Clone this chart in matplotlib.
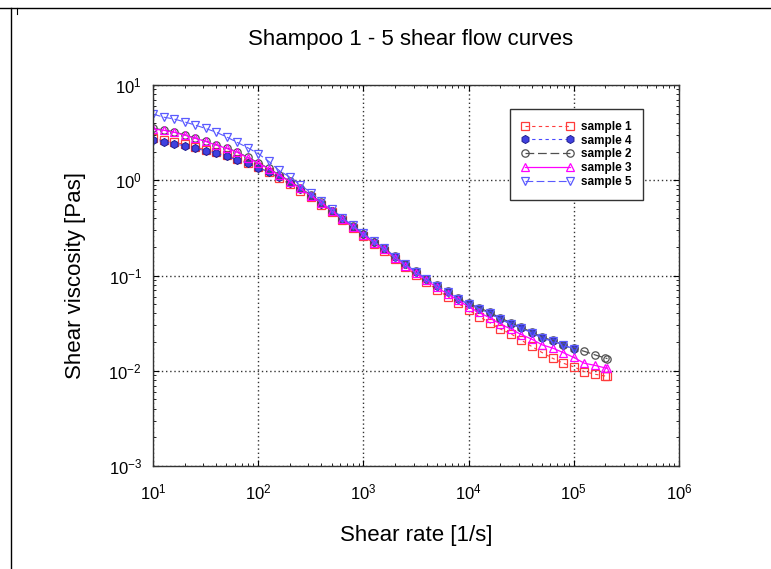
import matplotlib
matplotlib.use("Agg")
import matplotlib.pyplot as plt
from matplotlib.lines import Line2D

plt.rcParams['font.family'] = ['Liberation Sans', 'DejaVu Sans']

# shear rates [1/s], 10 points per decade
rate = [10, 12.6, 15.8, 20.0, 25.1, 31.6, 39.8, 50.1, 63.1, 79.4,
        100, 126, 158, 200, 251, 316, 398, 501, 631, 794,
        1000, 1259, 1585, 1995, 2512, 3162, 3981, 5012, 6310, 7943,
        10000, 12589, 15849, 19953, 25119, 31623, 39811, 50119, 63096, 79433,
        100000, 125893, 158489, 199526, 209000]

# viscosities [Pa s]
s1 = [2.75, 2.62, 2.50, 2.38, 2.23, 2.10, 1.97, 1.82, 1.68, 1.53,
      1.38, 1.21, 1.05, 0.91, 0.78, 0.66, 0.555, 0.46, 0.38, 0.315,
      0.26, 0.215, 0.18, 0.148, 0.122, 0.101, 0.085, 0.071, 0.060, 0.051,
      0.0435, 0.037, 0.032, 0.0275, 0.0245, 0.021, 0.018, 0.0155, 0.0135, 0.012,
      0.011, 0.0098, 0.0092, 0.0088, 0.0088]
s4 = [2.65, 2.55, 2.42, 2.30, 2.17, 2.04, 1.92, 1.78, 1.64, 1.50,
      1.36, 1.22, 1.07, 0.93, 0.80, 0.68, 0.57, 0.47, 0.39, 0.325,
      0.27, 0.224, 0.192, 0.158, 0.131, 0.110, 0.092, 0.078, 0.067, 0.057,
      0.050, 0.045, 0.040, 0.035, 0.031, 0.028, 0.025, 0.022, 0.0205, 0.0186,
      0.017]
s2 = [3.50, 3.38, 3.22, 3.00, 2.78, 2.58, 2.36, 2.18, 1.99, 1.74,
      1.53, 1.33, 1.14, 0.98, 0.83, 0.70, 0.585, 0.48, 0.395, 0.33,
      0.273, 0.226, 0.193, 0.159, 0.132, 0.111, 0.093, 0.079, 0.068, 0.058,
      0.051, 0.046, 0.041, 0.036, 0.032, 0.0285, 0.0255, 0.0225, 0.0208, 0.0188,
      0.0172, 0.016, 0.0147, 0.0136, 0.0134]
s3 = [3.45, 3.35, 3.20, 2.98, 2.76, 2.56, 2.34, 2.16, 1.97, 1.72,
      1.51, 1.32, 1.13, 0.97, 0.82, 0.69, 0.58, 0.475, 0.39, 0.325,
      0.268, 0.222, 0.188, 0.154, 0.127, 0.106, 0.089, 0.075, 0.064, 0.055,
      0.047, 0.041, 0.036, 0.031, 0.0275, 0.024, 0.0215, 0.0187, 0.0173, 0.0155,
      0.0138, 0.012, 0.0114, 0.0107, 0.0106]
s5 = [4.95, 4.60, 4.40, 4.10, 3.80, 3.50, 3.20, 2.85, 2.50, 2.20,
      1.90, 1.58, 1.27, 1.08, 0.90, 0.74, 0.61, 0.50, 0.405, 0.335,
      0.278, 0.228, 0.193, 0.158, 0.131, 0.110, 0.092, 0.078, 0.067, 0.057,
      0.050, 0.045, 0.040, 0.035, 0.031, 0.028, 0.025, 0.022, 0.0205, 0.0186,
      0.017]

fig = plt.figure(figsize=(7.71, 5.69), dpi=100)
ax = fig.add_axes([0.1984, 0.181, 0.6822, 0.6696])

ax.plot(rate[:len(s1)], s1, color='#ff3b3b', ls=(0, (3, 3)), lw=0.8, marker='s',
        ms=5.3, mfc='none', mec='#ff3b3b', mew=0.9, label='sample 1')
ax.plot(rate[:len(s4)], s4, color='#4a4aff', ls=(0, (3, 3)), lw=0.8, marker='h',
        ms=5.8, mfc='#4040e0', mec='#202090', mew=0.7, label='sample 4')
ax.plot(rate[:len(s2)], s2, color='#505050', ls=(0, (7, 3)), lw=0.9, marker='o',
        ms=5.3, mfc='none', mec='#505050', mew=0.9, label='sample 2')
ax.plot(rate[:len(s3)], s3, color='#ff00ff', ls='-', lw=0.9, marker='^',
        ms=5.3, mfc='none', mec='#ff00ff', mew=0.9, label='sample 3')
ax.plot(rate[:len(s5)], s5, color='#5a5aff', ls=(0, (7, 3)), lw=0.8, marker='v',
        ms=5.3, mfc='none', mec='#5a5aff', mew=0.9, label='sample 5')

ax.set_xscale('log')
ax.set_yscale('log')
ax.set_xlim(10, 1e6)
ax.set_ylim(1e-3, 10)

ax.grid(True, which='major', color='#333333', ls=(0, (1, 2)), lw=1.0)
ax.tick_params(which='both', direction='in', top=True, right=True)
ax.tick_params(which='major', length=4, labelsize=12)
ax.tick_params(which='minor', length=2)
ax.tick_params(axis='x', pad=12)
ax.tick_params(axis='y', pad=8)
for sp in ax.spines.values():
    sp.set_linewidth(1.0)
    sp.set_color('#333333')

fig.text(0.532, 1 - 40 / 569, 'Shampoo 1 - 5 shear flow curves', fontsize=16,
         ha='center', va='center')
ax.set_xlabel('Shear rate [1/s]', fontsize=16, labelpad=16)
ax.set_ylabel('Shear viscosity [Pas]', fontsize=16, labelpad=16)

leg = ax.legend(loc='upper right', bbox_to_anchor=(0.932, 0.937), borderaxespad=0,
                fancybox=False, edgecolor='#333333', framealpha=1,
                prop={'size': 8.5, 'weight': 'bold'}, handlelength=4.4,
                numpoints=2, labelspacing=0.15, borderpad=1.0, handletextpad=0.6)
leg.get_frame().set_linewidth(1.0)

# page frame lines at top and left
fig.add_artist(Line2D([0, 1], [1 - 8 / 569, 1 - 8 / 569], color='black', lw=1))
fig.add_artist(Line2D([11 / 771, 11 / 771], [0, 1 - 8 / 569], color='black', lw=1))
fig.add_artist(Line2D([17 / 771, 17 / 771], [1 - 8 / 569, 1 - 14 / 569], color='black', lw=0.8))

fig.savefig('out.png', dpi=100)
